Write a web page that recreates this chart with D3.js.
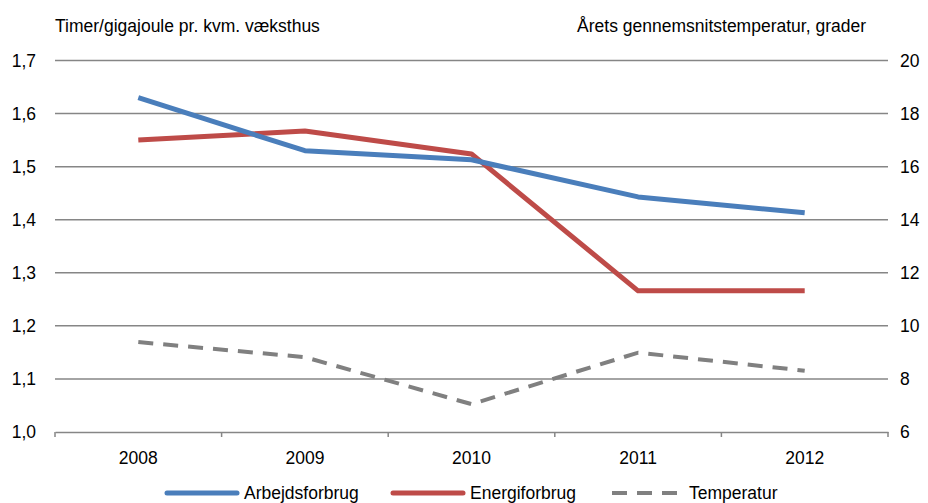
<!DOCTYPE html>
<html><head><meta charset="utf-8">
<script src="https://cdn.jsdelivr.net/npm/d3@7"></script>
<style>body{margin:0;background:#fff}svg{display:block}</style>
</head><body>
<script>
const years = ["2008","2009","2010","2011","2012"];
const arbejdsforbrug = [1.63, 1.53, 1.513, 1.443, 1.413];
const energiforbrug = [1.55, 1.567, 1.524, 1.266, 1.266];
const temperatur = [9.39, 8.82, 7.05, 8.99, 8.31];
const leftTicks = [1.0,1.1,1.2,1.3,1.4,1.5,1.6,1.7];
const rightTicks = [6,8,10,12,14,16,18,20];

const W=928,H=503;
const m={l:55,r:40,t:60.5,b:71};
const font="'Liberation Sans', Arial, sans-serif";
const fs=17.5;
const svg=d3.select("body").append("svg").attr("width",W).attr("height",H);
const x=d3.scaleBand().domain(years).range([m.l,W-m.r]);
const yL=d3.scaleLinear().domain([1.0,1.7]).range([H-m.b,m.t]);
const yR=d3.scaleLinear().domain([6,20]).range([H-m.b,m.t]);

// gridlines
svg.append("g").selectAll("line").data(leftTicks.slice(1)).join("line")
 .attr("x1",m.l).attr("x2",W-m.r).attr("y1",d=>yL(d)).attr("y2",d=>yL(d))
 .attr("stroke","#868686").attr("stroke-width",1.5);

// x axis
const xa=svg.append("g").attr("transform",`translate(0,${H-m.b})`)
 .call(d3.axisBottom(x).tickSize(0).tickPadding(20));
xa.select(".domain").attr("stroke","#868686").attr("stroke-width",1.5);
xa.selectAll("text").attr("font-family",font).attr("font-size",fs).attr("fill","#000");
const bounds=years.map(d=>x(d)).concat([x(years[years.length-1])+x.bandwidth()]);
xa.selectAll("line.b").data(bounds).join("line").attr("class","b")
 .attr("x1",d=>d).attr("x2",d=>d).attr("y1",0).attr("y2",5)
 .attr("stroke","#868686").attr("stroke-width",1.5);

// left axis
const la=svg.append("g").attr("transform",`translate(${m.l},0)`)
 .call(d3.axisLeft(yL).tickValues(leftTicks).tickSize(0).tickPadding(19).tickFormat(d=>d3.format(".1f")(d).replace(".",",")));
la.select(".domain").remove();
la.selectAll("text").attr("font-family",font).attr("font-size",fs).attr("fill","#000");

// right axis
const ra=svg.append("g").attr("transform",`translate(${W-m.r},0)`)
 .call(d3.axisRight(yR).tickValues(rightTicks).tickSize(0).tickPadding(12));
ra.select(".domain").remove();
ra.selectAll("text").attr("font-family",font).attr("font-size",fs).attr("fill","#000");

// titles
svg.append("text").attr("x",55).attr("y",32).attr("font-family",font).attr("font-size",fs).text("Timer/gigajoule pr. kvm. væksthus");
svg.append("text").attr("x",866).attr("y",32).attr("text-anchor","end").attr("font-family",font).attr("font-size",fs).text("Årets gennemsnitstemperatur, grader");

const cx=d=>x(d)+x.bandwidth()/2;
const lineL=d3.line().x((d,i)=>cx(years[i])).y(d=>yL(d));
const lineR=d3.line().x((d,i)=>cx(years[i])).y(d=>yR(d));

svg.append("path").attr("d",lineR(temperatur)).attr("fill","none").attr("stroke","#808080").attr("stroke-width",4).attr("stroke-dasharray","15,10");
svg.append("path").attr("d",lineL(energiforbrug)).attr("fill","none").attr("stroke","#be4b48").attr("stroke-width",5).attr("stroke-linejoin","round");
svg.append("path").attr("d",lineL(arbejdsforbrug)).attr("fill","none").attr("stroke","#4a7ebb").attr("stroke-width",5).attr("stroke-linejoin","round");

// legend
const leg=[{n:"Arbejdsforbrug",c:"#4a7ebb",x:167,w:5,dash:null},
 {n:"Energiforbrug",c:"#be4b48",x:393,w:5,dash:null},
 {n:"Temperatur",c:"#808080",x:612,w:4,dash:"15,10"}];
const lg=svg.append("g");
leg.forEach(l=>{
 lg.append("line").attr("x1",l.x).attr("x2",l.x+70).attr("y1",493).attr("y2",493)
  .attr("stroke",l.c).attr("stroke-width",l.w).attr("stroke-linecap",l.dash?"butt":"round").attr("stroke-dasharray",l.dash);
 lg.append("text").attr("x",l.x+77).attr("y",499).attr("font-family",font).attr("font-size",fs).text(l.n);
});
</script>
</body></html>
